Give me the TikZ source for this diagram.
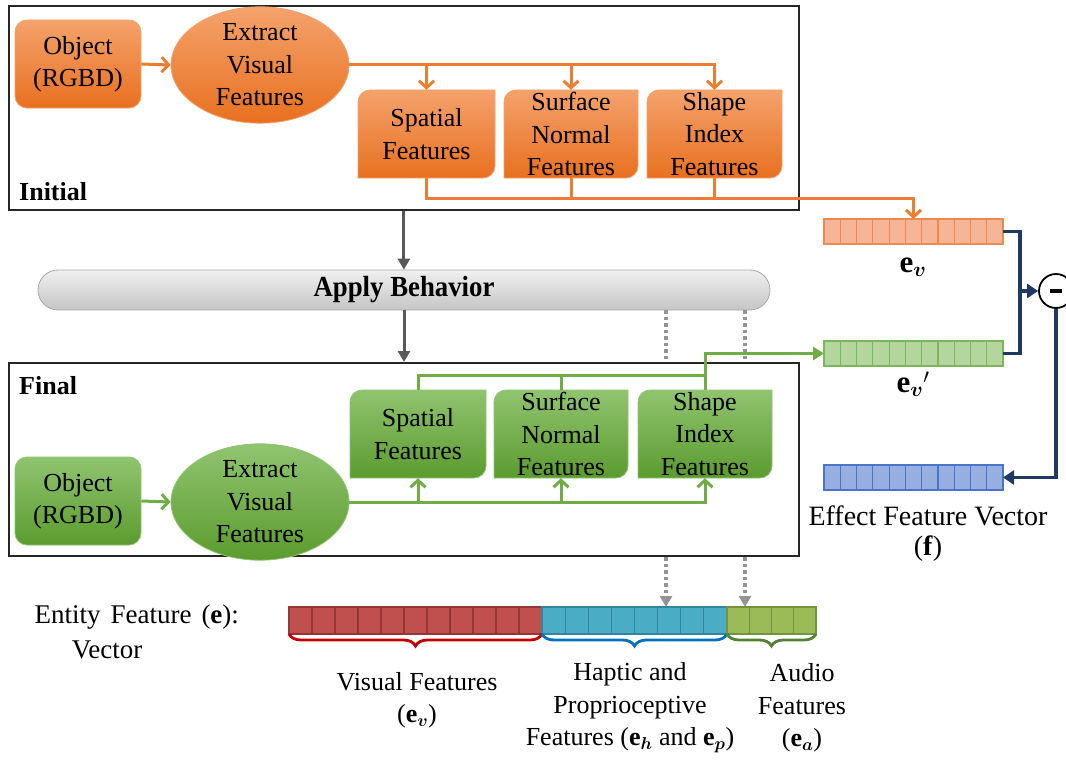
\documentclass[tikz,border=0pt]{standalone}
\usepackage{fontspec}
\setmainfont{Liberation Serif}
\usepackage{amsmath,bm}
\usetikzlibrary{arrows.meta,shapes.geometric,decorations.pathreplacing,calc}
\definecolor{oline}{HTML}{ED7D31}
\definecolor{otop}{HTML}{F4A26C}
\definecolor{obot}{HTML}{E8701F}
\definecolor{gline}{HTML}{70AD47}
\definecolor{gtop}{HTML}{90C470}
\definecolor{gbot}{HTML}{5B9B2E}
\definecolor{navy}{HTML}{1F3864}
\definecolor{dgray}{HTML}{595959}
\definecolor{vof}{HTML}{F6B597}
\definecolor{vod}{HTML}{EF8A4E}
\definecolor{vgf}{HTML}{B3D69E}
\definecolor{vgd}{HTML}{7DB65A}
\definecolor{vbf}{HTML}{97AEE0}
\definecolor{vbd}{HTML}{4A74C8}
\definecolor{erf}{HTML}{C0504D}
\definecolor{erd}{HTML}{943634}
\definecolor{ebf}{HTML}{4BACC6}
\definecolor{ebd}{HTML}{31859C}
\definecolor{egf}{HTML}{9BBB59}
\definecolor{egd}{HTML}{76923C}
\definecolor{brr}{HTML}{C00000}
\definecolor{brb}{HTML}{0070C0}
\definecolor{brg}{HTML}{538135}
\newcommand\featbox[8]{%
  \shadedraw[top color=#6,bottom color=#7,draw=#6,line width=0.8pt] (#2,#5) -- (#2,{#3+12}) arc[start angle=180,end angle=90,radius=12pt] -- (#4,#3) -- (#4,{#5-12}) arc[start angle=0,end angle=-90,radius=12pt] -- cycle;
  \node[txt, minimum width={(#4-#2)*1pt}, minimum height={(#5-#3)*1pt}, inner sep=0pt] (#1) at ({(#2+#4)/2},{(#3+#5)/2}) {#8};
}
\newcommand\vecbar[8]{%
  \node[draw=#8, fill=#7, line width=1.4pt, minimum width={(#4-#2)*1pt}, minimum height={(#5-#3)*1pt}, inner sep=0pt, outer sep=0pt, anchor=north west] (#1) at (#2,#3) {};
  \foreach \i in {1,...,\numexpr#6-1\relax} {\draw[#8, line width=1.2pt] ({#2+\i*(#4-#2)/#6},#3) -- ({#2+\i*(#4-#2)/#6},#5);}
}
\begin{document}
\begin{tikzpicture}[x=1pt,y=-1pt,
  txt/.style={font=\fontsize{26}{32.5}\selectfont, align=center},
  frame/.style={draw=black!85, line width=1.8pt, fill=white, inner sep=0pt},
  obox/.style={txt, rounded corners=12pt, top color=otop, bottom color=obot, draw=otop, line width=0.8pt, minimum width=126pt, minimum height=88pt, inner sep=0pt},
  oell/.style={txt, ellipse, top color=otop, bottom color=obot, draw=otop, line width=0.8pt, minimum width=178pt, minimum height=102pt, inner sep=0pt},
  gbox/.style={obox, top color=gtop, bottom color=gbot, draw=gtop},
  gell/.style={oell, top color=gtop, bottom color=gbot, draw=gtop},
  oarr/.style={oline, line width=3pt, -{Straight Barb[length=7pt,width=15pt]}},
  oln/.style={oline, line width=3pt},
  garrw/.style={gline, line width=3pt, -{Straight Barb[length=7pt,width=15pt]}},
  gln/.style={gline, line width=3pt},
  darr/.style={dgray, line width=3pt, -{Triangle[length=11pt,width=12pt]}},
  dots/.style={gray!85, line width=3.2pt, dash pattern=on 3.5pt off 3pt, -{Triangle[length=11pt,width=12pt]}},
  navl/.style={navy, line width=3.2pt},
  navarr/.style={navy, line width=3.2pt, -{Triangle[length=11pt,width=14pt]}},
  lab/.style={font=\fontsize{26}{32.5}\selectfont, align=center},
  mlab/.style={font=\fontsize{31}{34}\selectfont, align=center},
  clab/.style={font=\fontsize{28}{33}\selectfont, align=center}
]
\useasboundingbox (0,0) rectangle (1066,760);

% right vectors and entity vector (defined first for references)
\vecbar{ev}{824}{219}{1003}{244}{11}{vof}{vod}
\vecbar{evp}{824}{341}{1003}{366}{11}{vgf}{vgd}
\vecbar{fv}{824}{465}{1003}{490}{11}{vbf}{vbd}
\vecbar{evis}{289}{607}{542}{634}{11}{erf}{erd}
\vecbar{ehap}{542}{607}{727}{634}{8}{ebf}{ebd}
\vecbar{eaud}{727}{607}{816}{634}{4}{egf}{egd}

% Initial frame
\node[frame, minimum width=790pt, minimum height=204pt, anchor=north west] (ibox) at (8,5) {};
\node[anchor=west, font=\fontsize{26}{30}\selectfont\bfseries, inner sep=3pt] (ilab) at (16,192) {Initial};
\node[obox] (obj1) at (78,64) {Object\\(RGBD)};
\node[oell] (ext1) at (260,65) {Extract\\Visual\\Features};
\featbox{sp1}{358}{90}{495}{178}{otop}{obot}{Spatial\\Features}
\featbox{sn1}{504}{90}{638}{178}{otop}{obot}{Surface\\Normal\\Features}
\featbox{sh1}{647}{90}{782}{178}{otop}{obot}{Shape\\Index\\Features}
\draw[oarr] (obj1.east) -- (ext1.west);
\draw[oarr] (ext1.east) -- (sh1.north |- ext1.east) -- (sh1.north);
\draw[oarr] (sp1.north |- ext1.east) -- (sp1.north);
\draw[oarr] (sn1.north |- ext1.east) -- (sn1.north);
\coordinate (oj) at (0,198);
\draw[oarr] (sp1.south) |- (ev.north |- oj) -- (ev.north);
\draw[oln] (sn1.south) -- (sn1.south |- oj);
\draw[oln] (sh1.south) -- (sh1.south |- oj);

% Apply behavior
\node[rounded corners=20pt, top color=gray!12, bottom color=gray!45, draw=gray!70, line width=0.8pt, minimum width=732pt, minimum height=40pt, inner sep=0pt, font=\fontsize{26}{30}\selectfont\bfseries] (ab) at (404,290) {\scalebox{1.03}[1.12]{Apply Behavior}};
\draw[darr] (ibox.south) -- (ibox.south |- ab.north);

% dotted connectors
\coordinate (d1) at (666,310);
\coordinate (d2) at (745,310);
\draw[dots] (d1) -- (d1 |- ehap.north);
\draw[dots] (d2) -- (d2 |- eaud.north);

% Final frame
\node[frame, minimum width=790pt, minimum height=193pt, anchor=north west] (fbox) at (8,362) {};
\draw[darr] (ab.south) -- (ab.south |- fbox.north);
\node[anchor=west, font=\fontsize{26}{30}\selectfont\bfseries, inner sep=3pt] (flab) at (16,386) {Final};
\node[gbox] (obj2) at (78,501) {Object\\(RGBD)};
\node[gell] (ext2) at (260,502) {Extract\\Visual\\Features};
\featbox{sp2}{350}{390}{486}{478}{gtop}{gbot}{Spatial\\Features}
\featbox{sn2}{494}{390}{628}{478}{gtop}{gbot}{Surface\\Normal\\Features}
\featbox{sh2}{638}{390}{772}{478}{gtop}{gbot}{Shape\\Index\\Features}
\draw[garrw] (obj2.east) -- (ext2.west);
\draw[garrw] (ext2.east) -- (sh2.south |- ext2.east) -- (sh2.south);
\draw[garrw] (sp2.south |- ext2.east) -- (sp2.south);
\draw[garrw] (sn2.south |- ext2.east) -- (sn2.south);
\coordinate (gj) at (0,375);
\draw[gln] (sp2.north) |- (sh2.north |- gj);
\draw[gln] (sn2.north) -- (sn2.north |- gj);
\draw[gln, -{Triangle[length=11pt,width=13pt]}] (sh2.north) |- (evp.west);

% right side labels and difference
\node[mlab] (evl) at (913,267) {$\mathbf{e}_{\bm{v}}$};
\node[mlab] (evpl) at (913,384) {$\mathbf{e}_{\bm{v}}{}'$};
\node[circle, draw, line width=1.8pt, fill=white, minimum size=34pt, inner sep=0pt] (minus) at (1056,291) {};
\fill (minus.center) ++(-6pt,-2pt) rectangle ++(12pt,4pt);
\coordinate (nj) at ([xshift=17pt]ev.east |- minus.west);
\draw[navl] (ev.east) -| (nj);
\draw[navl] (evp.east) -| (nj);
\draw[navarr] (nj) -- (minus.west);
\draw[navarr] (minus.south) |- (fv.east);
\node[clab] (fl1) at (928,516) {Effect Feature Vector};
\node[clab] (fl2) at (928,549) {(\textbf{f})};

% entity vector labels and braces
\node[anchor=west, font=\fontsize{27}{32}\selectfont] (ent1) at (31,617) {Entity\hspace{10pt}Feature\hspace{10pt}(\textbf{e}):};
\node[font=\fontsize{27}{32}\selectfont] (ent2) at (107,650) {Vector};
\draw[brr, line width=2.8pt, decorate, decoration={brace, amplitude=12pt}] (evis.south east) -- (evis.south west);
\draw[brb, line width=2.8pt, decorate, decoration={brace, amplitude=12pt}] (ehap.south east) -- (ehap.south west);
\draw[brg, line width=2.8pt, decorate, decoration={brace, amplitude=12pt}] (eaud.south east) -- (eaud.south west);
\node[lab] (vl) at (417,700) {Visual Features\\($\mathbf{e}_{\bm{v}}$)};
\node[lab] (hl) at (630,708) {Haptic and\\Proprioceptive\\Features ($\mathbf{e}_{\bm{h}}$ and $\mathbf{e}_{\bm{p}}$)};
\node[lab] (al) at (802,708) {Audio\\Features\\($\mathbf{e}_{\bm{a}}$)};
\end{tikzpicture}
\end{document}
